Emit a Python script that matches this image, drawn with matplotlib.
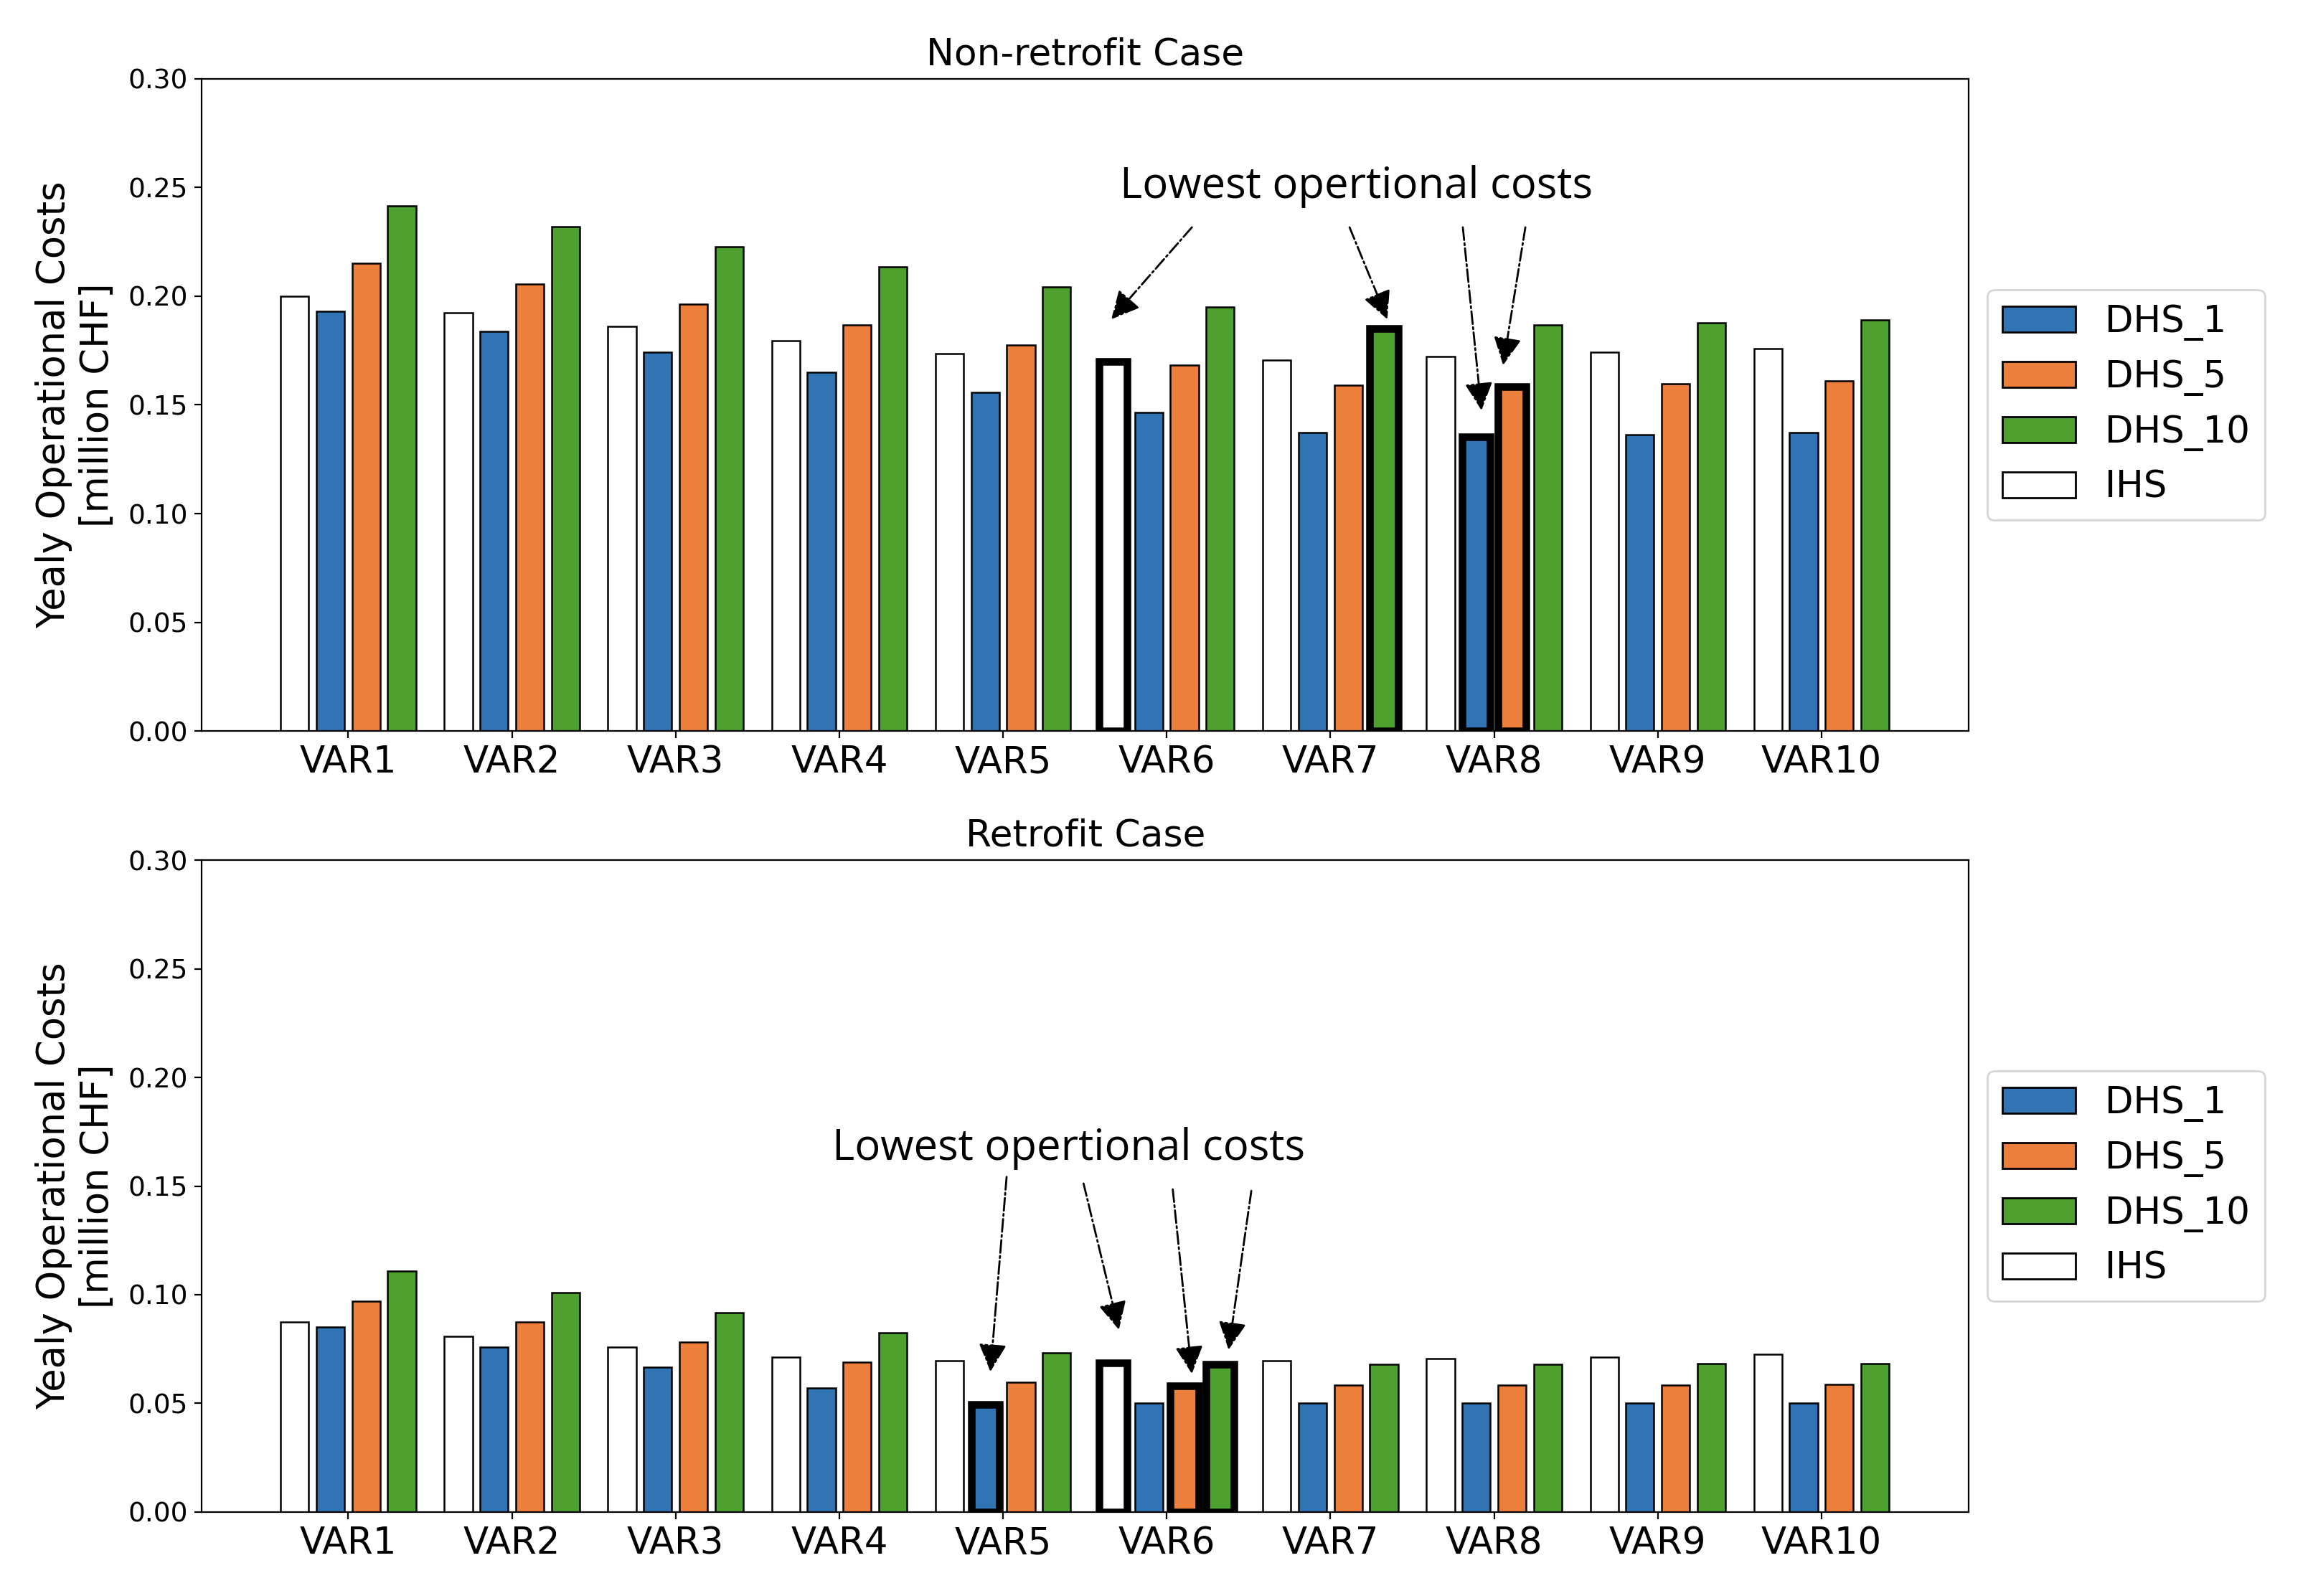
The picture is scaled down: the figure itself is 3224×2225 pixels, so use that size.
import numpy as np
import matplotlib.pyplot as plt
from matplotlib.patches import Patch

variants = ["VAR1", "VAR2", "VAR3", "VAR4", "VAR5", "VAR6", "VAR7", "VAR8", "VAR9", "VAR10"]

# Non-retrofit case [million CHF]
ihs_nr = [0.200, 0.1925, 0.186, 0.1795, 0.1737, 0.170, 0.1705, 0.1724, 0.1742, 0.176]
dhs1_nr = [0.1932, 0.1837, 0.1742, 0.1649, 0.1557, 0.1464, 0.1374, 0.1353, 0.1364, 0.1374]
dhs5_nr = [0.2152, 0.2055, 0.1962, 0.1867, 0.1775, 0.1684, 0.1592, 0.1585, 0.1598, 0.161]
dhs10_nr = [0.2416, 0.2319, 0.2226, 0.2134, 0.2043, 0.1951, 0.1853, 0.1867, 0.1879, 0.189]

# Retrofit case [million CHF]
ihs_r = [0.0876, 0.0809, 0.0759, 0.0714, 0.0695, 0.0686, 0.0695, 0.0705, 0.0714, 0.0726]
dhs1_r = [0.0852, 0.0759, 0.0665, 0.0572, 0.0496, 0.0501, 0.0501, 0.0501, 0.0503, 0.0503]
dhs5_r = [0.0971, 0.0873, 0.0781, 0.0691, 0.0596, 0.0581, 0.0584, 0.0584, 0.0584, 0.0586]
dhs10_r = [0.1108, 0.1011, 0.0918, 0.0826, 0.0731, 0.0679, 0.0681, 0.0681, 0.0684, 0.0684]

# highlighted bars (variant index, series index: 0=IHS,1=DHS_1,2=DHS_5,3=DHS_10)
best_nr = [(5, 0), (6, 3), (7, 1), (7, 2)]
best_r = [(4, 1), (5, 0), (5, 2), (5, 3)]

colors = ["white", "#3174b4", "#ec7f3c", "#4ea12f"]
names = ["IHS", "DHS_1", "DHS_5", "DHS_10"]

x = np.arange(len(variants))
step = 0.218
width = 0.172


def bars(ax, series, best, title):
    for k, vals in enumerate(series):
        b = ax.bar(x + (k - 1.5) * step, vals, width, color=colors[k],
                   edgecolor="black", linewidth=0.9)
        for i, kk in best:
            if kk == k:
                b[i].set_linewidth(3.8)
    ax.set_ylim(0, 0.30)
    ax.set_xlim(-0.895, 9.9)
    ax.set_yticks(np.arange(0, 0.31, 0.05))
    ax.set_yticklabels(["%.2f" % v for v in np.arange(0, 0.31, 0.05)], fontsize=13.5)
    ax.set_xticks(x)
    ax.set_xticklabels(variants, fontsize=18.5)
    ax.set_title(title, fontsize=18.7, pad=7)
    ax.set_ylabel("Yealy Operational Costs\n[million CHF]", fontsize=19, labelpad=6)
    handles = [Patch(facecolor=colors[k], edgecolor="black", label=names[k]) for k in [1, 2, 3, 0]]
    ax.legend(handles=handles, loc="center left", bbox_to_anchor=(1.0, 0.5),
              fontsize=18.5, labelspacing=0.5)


fig = plt.figure(figsize=(16.12, 11.125), dpi=200)
ax1 = fig.add_axes([0.0872, 0.542, 0.764, 0.4086])
ax2 = fig.add_axes([0.0872, 0.0526, 0.764, 0.4085])

bars(ax1, [ihs_nr, dhs1_nr, dhs5_nr, dhs10_nr], best_nr, "Non-retrofit Case")
bars(ax2, [ihs_r, dhs1_r, dhs5_r, dhs10_r], best_r, "Retrofit Case")

arrow = dict(arrowstyle="-|>", linestyle="-.", color="black", lw=1.0,
             mutation_scale=30, shrinkA=0, shrinkB=0)

ax1.text(6.16, 0.2505, "Lowest opertional costs", fontsize=21.5, family="Open Sans",
         ha="center", va="center")
for xy, xyt in [((4.662, 0.1894), (5.154, 0.2317)), ((6.348, 0.1894), (6.117, 0.2317)),
                ((6.923, 0.1475), (6.809, 0.2317)), ((7.055, 0.1683), (7.191, 0.2317))]:
    ax1.annotate("", xy=xy, xytext=xyt, arrowprops=arrow)

ax2.text(4.4, 0.1674, "Lowest opertional costs", fontsize=21.5, family="Open Sans",
         ha="center", va="center")
for xy, xyt in [((3.923, 0.0646), (4.022, 0.1542)), ((4.708, 0.0839), (4.492, 0.1512)),
                ((5.154, 0.0636), (5.037, 0.1485)), ((5.378, 0.0747), (5.517, 0.1478))]:
    ax2.annotate("", xy=xy, xytext=xyt, arrowprops=arrow)

fig.savefig("out.png", dpi=200)
